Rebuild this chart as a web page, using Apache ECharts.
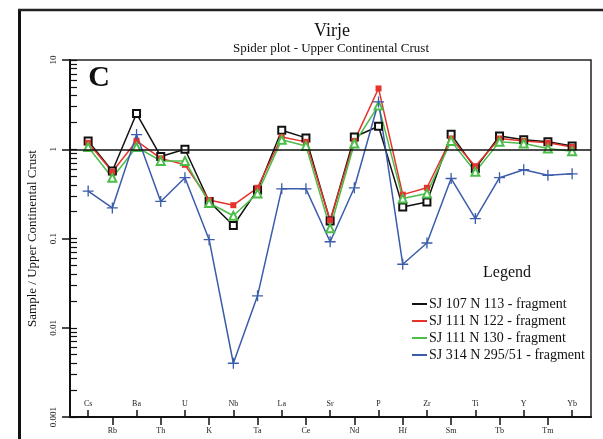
<!DOCTYPE html>
<html>
<head>
<meta charset="utf-8">
<script src="https://cdn.jsdelivr.net/npm/echarts@6/dist/echarts.min.js"></script>
<style>
  html, body { margin: 0; padding: 0; background: #fff; }
  #chart { width: 603px; height: 439px; }
</style>
</head>
<body>
<div id="chart"></div>
<script>
// elements along the x axis
const elements = ['Cs', 'Rb', 'Ba', 'Th', 'U', 'K', 'Nb', 'Ta', 'La', 'Ce', 'Sr', 'Nd', 'P', 'Hf', 'Zr', 'Sm', 'Ti', 'Tb', 'Y', 'Tm', 'Yb'];

// sample / upper continental crust
const sj107n113 = [1.24, 0.57, 2.51, 0.83, 1.0, 0.26, 0.14, 0.35, 1.63, 1.34, 0.157, 1.37, 1.81, 0.226, 0.257, 1.47, 0.61, 1.41, 1.28, 1.21, 1.09];
const sj111n122 = [1.18, 0.56, 1.24, 0.79, 0.67, 0.27, 0.236, 0.37, 1.37, 1.21, 0.16, 1.24, 4.8, 0.31, 0.37, 1.32, 0.645, 1.32, 1.24, 1.18, 1.06];
const sj111n130 = [1.06, 0.48, 1.06, 0.74, 0.74, 0.25, 0.18, 0.32, 1.28, 1.09, 0.13, 1.16, 3.1, 0.28, 0.32, 1.24, 0.56, 1.21, 1.16, 1.02, 0.95];
const sj314n295 = [0.34, 0.22, 1.46, 0.26, 0.48, 0.097, 0.004, 0.0228, 0.36, 0.36, 0.092, 0.37, 3.39, 0.0515, 0.089, 0.47, 0.167, 0.48, 0.59, 0.51, 0.53];

const seriesNames = ['SJ 107 N 113 - fragment', 'SJ 111 N 122 - fragment', 'SJ 111 N 130 - fragment', 'SJ 314 N 295/51 - fragment'];
const seriesColors = ['#111111', '#e5332c', '#4dbd4a', '#3b5cab'];

// y tick labels
const yTicks = [0.001, 0.01, 0.1, 1, 10];
const yTickLabels = ['0.001', '0.01', '0.1', '1', '10'];

const serif = 'Liberation Serif';
const evenIdx = elements.map((e, i) => i).filter(i => i % 2 === 0);
const oddIdx = elements.map((e, i) => i).filter(i => i % 2 === 1);

// minor ticks for the log axis (2..9 of each decade), in log space
const minorTicks = [];
for (let d = -3; d < 1; d++) {
  for (let m = 1; m < 10; m++) {
    minorTicks.push(d + Math.log10(m));
  }
}
minorTicks.push(1);

const toPoints = (arr) => arr.map((v, i) => [i, v]);
const plusPath = 'path://M4.4,0h1.2v4.4h4.4v1.2h-4.4v4.4h-1.2v-4.4h-4.4v-1.2h4.4z';

const chart = echarts.init(document.getElementById('chart'), null, { renderer: 'canvas' });

const xBase = {
  type: 'value',
  min: -0.75,
  max: 20.78,
  position: 'bottom',
  splitLine: { show: false },
};

const option = {
  animation: false,
  backgroundColor: '#fff',
  grid: {
    left: 70, right: 12, top: 60, bottom: 22,
    show: true,
    borderColor: '#222',
    borderWidth: 1.5,
    outerBoundsMode: 'none',
  },
  graphic: [
    { type: 'line', shape: { x1: 19.5, y1: 9, x2: 19.5, y2: 439 }, style: { stroke: '#111', lineWidth: 3 } },
    { type: 'line', shape: { x1: 18, y1: 10, x2: 603, y2: 10 }, style: { stroke: '#222', lineWidth: 2.5 } },
    { type: 'text', x: 332, y: 31, style: { text: 'Virje', font: '18px "Liberation Serif"', fill: '#111', align: 'center', verticalAlign: 'middle' } },
    { type: 'text', x: 331, y: 49, style: { text: 'Spider plot - Upper Continental Crust', font: '13px "Liberation Serif"', fill: '#111', align: 'center', verticalAlign: 'middle' } },
    { type: 'text', x: 99, y: 78, style: { text: 'C', font: 'bold 30px "Liberation Serif"', fill: '#111', align: 'center', verticalAlign: 'middle' } },
    { type: 'text', x: 507, y: 273, style: { text: 'Legend', font: '16px "Liberation Serif"', fill: '#111', align: 'center', verticalAlign: 'middle' } },
  ],
  legend: {
    orient: 'vertical',
    left: 412,
    top: 297,
    padding: 0,
    itemWidth: 15,
    itemHeight: 2,
    itemGap: 3,
    textStyle: { fontFamily: serif, fontSize: 14, color: '#111', padding: [0, 0, 0, -3] },
    data: seriesNames.map((n, i) => ({ name: n, icon: 'rect', itemStyle: { color: seriesColors[i], borderWidth: 0 } })),
  },
  xAxis: [
    Object.assign({}, xBase, {
      axisLine: { onZero: false, lineStyle: { color: '#111', width: 2 } },
      axisTick: { customValues: evenIdx, inside: true, length: 7, lineStyle: { color: '#111', width: 1.5 } },
      axisLabel: { customValues: evenIdx, inside: true, margin: 9, fontFamily: serif, fontSize: 8, color: '#222', formatter: (v) => elements[Math.round(v)] },
    }),
    Object.assign({}, xBase, {
      axisLine: { show: false, onZero: false },
      axisTick: { customValues: oddIdx, inside: false, length: 8, lineStyle: { color: '#111', width: 1.5 } },
      axisLabel: { customValues: oddIdx, margin: 10, fontFamily: serif, fontSize: 8, color: '#222', formatter: (v) => elements[Math.round(v)] },
    }),
  ],
  yAxis: [
    {
      type: 'log',
      logBase: 10,
      min: 0.001,
      max: 10,
      name: 'Sample / Upper Continental Crust',
      nameLocation: 'middle',
      nameRotate: 90,
      nameGap: 31,
      nameTextStyle: { fontFamily: serif, fontSize: 13, color: '#111' },
      axisLine: { onZero: false, lineStyle: { color: '#111', width: 2 } },
      axisTick: { length: 8, lineStyle: { color: '#111', width: 1.5 } },
      axisLabel: {
        rotate: 90,
        margin: 12,
        fontFamily: serif,
        fontSize: 9,
        color: '#222',
        formatter: (v) => {
          let best = 0;
          yTicks.forEach((t, i) => { if (Math.abs(Math.log10(v) - Math.log10(t)) < Math.abs(Math.log10(v) - Math.log10(yTicks[best]))) best = i; });
          return yTickLabels[best];
        },
      },
      splitLine: { show: false },
    },
    {
      // minor ticks only
      type: 'value',
      min: -3,
      max: 1,
      position: 'left',
      axisLine: { show: false, onZero: false },
      axisLabel: { show: false },
      axisTick: { customValues: minorTicks, inside: true, length: 7, lineStyle: { color: '#111', width: 1.2 } },
      splitLine: { show: false },
    },
  ],
  series: [
    {
      name: seriesNames[0],
      type: 'line',
      data: toPoints(sj107n113),
      color: seriesColors[0],
      symbol: 'emptyRect',
      symbolSize: 7,
      itemStyle: { borderWidth: 1.5 },
      lineStyle: { width: 1.5 },
      markLine: {
        silent: true,
        symbol: 'none',
        label: { show: false },
        lineStyle: { color: '#111', width: 1.5, type: 'solid' },
        data: [{ yAxis: 1 }],
      },
    },
    {
      name: seriesNames[1],
      type: 'line',
      data: toPoints(sj111n122),
      color: seriesColors[1],
      symbol: 'rect',
      symbolSize: 6,
      lineStyle: { width: 1.5 },
    },
    {
      name: seriesNames[2],
      type: 'line',
      data: toPoints(sj111n130),
      color: seriesColors[2],
      symbol: 'emptyTriangle',
      symbolSize: 8,
      itemStyle: { borderWidth: 1.5 },
      lineStyle: { width: 1.5 },
    },
    {
      name: seriesNames[3],
      type: 'line',
      data: toPoints(sj314n295),
      color: seriesColors[3],
      symbol: plusPath,
      symbolSize: 11,
      lineStyle: { width: 1.5 },
    },
  ],
};

chart.setOption(option);
</script>
</body>
</html>
